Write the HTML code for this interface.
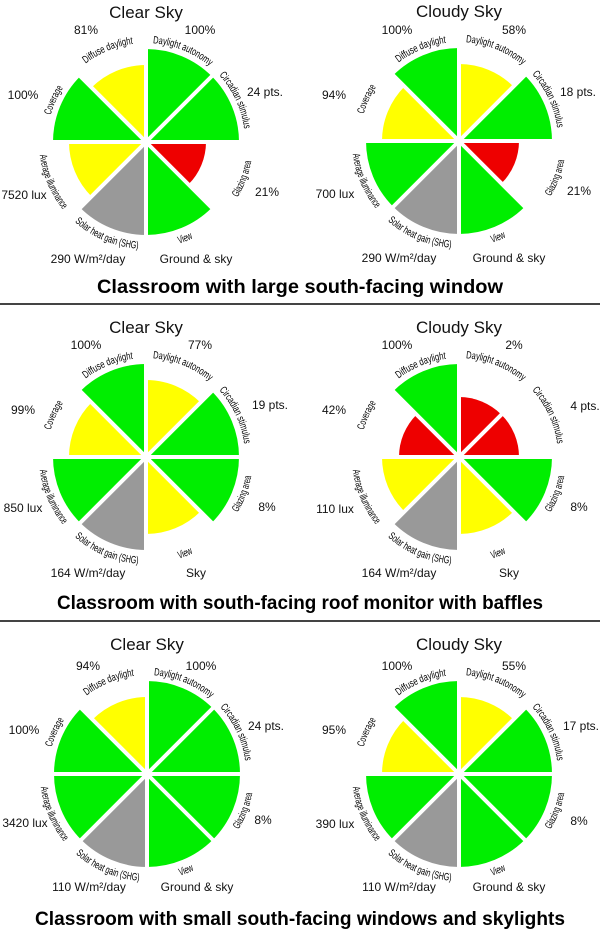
<!DOCTYPE html>
<html><head><meta charset="utf-8"><style>
html,body{margin:0;padding:0;background:#fff;}
svg{display:block}
.v{font-family:"Liberation Sans",sans-serif;font-size:12px;fill:#111;text-anchor:middle}
.t{font-family:"Liberation Sans",sans-serif;font-size:17px;fill:#111;text-anchor:middle}
.h{font-family:"Liberation Sans",sans-serif;font-size:19px;font-weight:bold;fill:#000;text-anchor:middle}
.l{font-family:"Liberation Sans Narrow","Liberation Sans",sans-serif;font-size:10.5px;fill:#000;text-anchor:middle}
.G{fill:#00ee00}.Y{fill:#ffff00}.R{fill:#ee0000}.S{fill:#999}
</style></head><body>
<svg width="600" height="929" viewBox="0 0 600 929" xmlns="http://www.w3.org/2000/svg">
<defs>
<path id="cw" d="M0,-99 A99,99 0 1 1 0,99 A99,99 0 1 1 0,-99" fill="none"/>
<path id="ccw" d="M0,-107 A107,107 0 1 0 0,107 A107,107 0 1 0 0,-107" fill="none"/>
<g id="gaps" stroke="#fff" stroke-width="4">
<line x1="0" y1="0" x2="0" y2="-100"/><line x1="0" y1="0" x2="71" y2="-71"/><line x1="0" y1="0" x2="100" y2="0"/><line x1="0" y1="0" x2="71" y2="71"/><line x1="0" y1="0" x2="0" y2="100"/><line x1="0" y1="0" x2="-71" y2="71"/><line x1="0" y1="0" x2="-100" y2="0"/><line x1="0" y1="0" x2="-71" y2="-71"/>
<circle r="5" fill="#fff" stroke="none"/>
</g>
<g id="F0"><path d="M0 0L0 -93A93 93 0 0 1 65.76 -65.76Z"/></g>
<g id="F1"><path d="M0 0L65.76 -65.76A93 93 0 0 1 93 0Z"/></g>
<g id="F2"><path d="M0 0L93 0A93 93 0 0 1 65.76 65.76Z"/></g>
<g id="F3"><path d="M0 0L65.76 65.76A93 93 0 0 1 0 93Z"/></g>
<g id="F4"><path d="M0 0L0 93A93 93 0 0 1 -65.76 65.76Z"/></g>
<g id="F5"><path d="M0 0L-65.76 65.76A93 93 0 0 1 -93 0Z"/></g>
<g id="F6"><path d="M0 0L-93 0A93 93 0 0 1 -65.76 -65.76Z"/></g>
<g id="F7"><path d="M0 0L-65.76 -65.76A93 93 0 0 1 0 -93Z"/></g>
<g id="Y0"><path d="M0 0L0 -77A77 77 0 0 1 54.45 -54.45Z"/></g>
<g id="Y3"><path d="M0 0L54.45 54.45A77 77 0 0 1 0 77Z"/></g>
<g id="Y5"><path d="M0 0L-54.45 54.45A77 77 0 0 1 -77 0Z"/></g>
<g id="Y6"><path d="M0 0L-77 0A77 77 0 0 1 -54.45 -54.45Z"/></g>
<g id="Y7"><path d="M0 0L-54.45 -54.45A77 77 0 0 1 0 -77Z"/></g>
<g id="R0"><path d="M0 0L0 -60A60 60 0 0 1 42.43 -42.43Z"/></g>
<g id="R1"><path d="M0 0L42.43 -42.43A60 60 0 0 1 60 0Z"/></g>
<g id="R2"><path d="M0 0L60 0A60 60 0 0 1 42.43 42.43Z"/></g>
<g id="R6"><path d="M0 0L-60 0A60 60 0 0 1 -42.43 -42.43Z"/></g>
</defs>

<line x1="0" y1="304" x2="600" y2="304" stroke="#444" stroke-width="2"/>
<line x1="0" y1="621" x2="600" y2="621" stroke="#444" stroke-width="2"/>

<!-- Panel 1 chart 1 -->
<g transform="translate(146,142)">
<use href="#F0" class="G"/><use href="#F1" class="G"/><use href="#R2" class="R"/><use href="#F3" class="G"/><use href="#F4" class="S"/><use href="#Y5" class="Y"/><use href="#F6" class="G"/><use href="#Y7" class="Y"/>
<use href="#gaps"/>
<text class="t" x="0" y="-124">Clear Sky</text>
<text class="v" x="-60" y="-108">81%</text><text class="v" x="54" y="-108">100%</text>
<text class="v" x="-123" y="-43">100%</text><text class="v" x="119" y="-46">24 pts.</text>
<text class="v" x="-122" y="57">7520 lux</text><text class="v" x="121" y="54">21%</text>
<text class="v" x="-58" y="121">290 W/m²/day</text><text class="v" x="50" y="121">Ground &amp; sky</text>
<text class="l"><textPath href="#cw" startOffset="38" textLength="62" lengthAdjust="spacingAndGlyphs">Daylight autonomy</textPath></text>
<text class="l"><textPath href="#cw" startOffset="112" textLength="60" lengthAdjust="spacingAndGlyphs">Circadian stimulus</textPath></text>
<text class="l"><textPath href="#cw" startOffset="508" textLength="30" lengthAdjust="spacingAndGlyphs">Coverage</textPath></text>
<text class="l"><textPath href="#cw" startOffset="582" textLength="52" lengthAdjust="spacingAndGlyphs">Diffuse daylight</textPath></text>
<text class="l"><textPath href="#ccw" startOffset="465" textLength="39" lengthAdjust="spacingAndGlyphs">Glazing area</textPath></text>
<text class="l"><textPath href="#ccw" startOffset="377" textLength="15" lengthAdjust="spacingAndGlyphs">View</textPath></text>
<text class="l"><textPath href="#ccw" startOffset="293" textLength="70" lengthAdjust="spacingAndGlyphs">Solar heat gain (SHG)</textPath></text>
<text class="l"><textPath href="#ccw" startOffset="211" textLength="60" lengthAdjust="spacingAndGlyphs">Average illuminance</textPath></text>
</g>

<!-- Panel 1 chart 2 -->
<g transform="translate(459,141)">
<use href="#Y0" class="Y"/><use href="#F1" class="G"/><use href="#R2" class="R"/><use href="#F3" class="G"/><use href="#F4" class="S"/><use href="#F5" class="G"/><use href="#Y6" class="Y"/><use href="#F7" class="G"/>
<use href="#gaps"/>
<text class="t" x="0" y="-124">Cloudy Sky</text>
<text class="v" x="-62" y="-107">100%</text><text class="v" x="55" y="-107">58%</text>
<text class="v" x="-125" y="-42">94%</text><text class="v" x="119" y="-45">18 pts.</text>
<text class="v" x="-124" y="57">700 lux</text><text class="v" x="120" y="54">21%</text>
<text class="v" x="-60" y="121">290 W/m²/day</text><text class="v" x="50" y="121">Ground &amp; sky</text>
<text class="l"><textPath href="#cw" startOffset="38" textLength="62" lengthAdjust="spacingAndGlyphs">Daylight autonomy</textPath></text>
<text class="l"><textPath href="#cw" startOffset="112" textLength="60" lengthAdjust="spacingAndGlyphs">Circadian stimulus</textPath></text>
<text class="l"><textPath href="#cw" startOffset="508" textLength="30" lengthAdjust="spacingAndGlyphs">Coverage</textPath></text>
<text class="l"><textPath href="#cw" startOffset="582" textLength="52" lengthAdjust="spacingAndGlyphs">Diffuse daylight</textPath></text>
<text class="l"><textPath href="#ccw" startOffset="465" textLength="39" lengthAdjust="spacingAndGlyphs">Glazing area</textPath></text>
<text class="l"><textPath href="#ccw" startOffset="377" textLength="15" lengthAdjust="spacingAndGlyphs">View</textPath></text>
<text class="l"><textPath href="#ccw" startOffset="293" textLength="70" lengthAdjust="spacingAndGlyphs">Solar heat gain (SHG)</textPath></text>
<text class="l"><textPath href="#ccw" startOffset="211" textLength="60" lengthAdjust="spacingAndGlyphs">Average illuminance</textPath></text>
</g>
<text class="h" x="300" y="293" textLength="406" lengthAdjust="spacingAndGlyphs">Classroom with large south-facing window</text>

<!-- Panel 2 chart 1 -->
<g transform="translate(146,457)">
<use href="#Y0" class="Y"/><use href="#F1" class="G"/><use href="#F2" class="G"/><use href="#Y3" class="Y"/><use href="#F4" class="S"/><use href="#F5" class="G"/><use href="#Y6" class="Y"/><use href="#F7" class="G"/>
<use href="#gaps"/>
<text class="t" x="0" y="-124">Clear Sky</text>
<text class="v" x="-60" y="-108">100%</text><text class="v" x="54" y="-108">77%</text>
<text class="v" x="-123" y="-43">99%</text><text class="v" x="124" y="-48">19 pts.</text>
<text class="v" x="-123" y="55">850 lux</text><text class="v" x="121" y="54">8%</text>
<text class="v" x="-58" y="120">164 W/m²/day</text><text class="v" x="50" y="120">Sky</text>
<text class="l"><textPath href="#cw" startOffset="38" textLength="62" lengthAdjust="spacingAndGlyphs">Daylight autonomy</textPath></text>
<text class="l"><textPath href="#cw" startOffset="112" textLength="60" lengthAdjust="spacingAndGlyphs">Circadian stimulus</textPath></text>
<text class="l"><textPath href="#cw" startOffset="508" textLength="30" lengthAdjust="spacingAndGlyphs">Coverage</textPath></text>
<text class="l"><textPath href="#cw" startOffset="582" textLength="52" lengthAdjust="spacingAndGlyphs">Diffuse daylight</textPath></text>
<text class="l"><textPath href="#ccw" startOffset="465" textLength="39" lengthAdjust="spacingAndGlyphs">Glazing area</textPath></text>
<text class="l"><textPath href="#ccw" startOffset="377" textLength="15" lengthAdjust="spacingAndGlyphs">View</textPath></text>
<text class="l"><textPath href="#ccw" startOffset="293" textLength="70" lengthAdjust="spacingAndGlyphs">Solar heat gain (SHG)</textPath></text>
<text class="l"><textPath href="#ccw" startOffset="211" textLength="60" lengthAdjust="spacingAndGlyphs">Average illuminance</textPath></text>
</g>

<!-- Panel 2 chart 2 -->
<g transform="translate(459,457)">
<use href="#R0" class="R"/><use href="#R1" class="R"/><use href="#F2" class="G"/><use href="#Y3" class="Y"/><use href="#F4" class="S"/><use href="#Y5" class="Y"/><use href="#R6" class="R"/><use href="#F7" class="G"/>
<use href="#gaps"/>
<text class="t" x="0" y="-124">Cloudy Sky</text>
<text class="v" x="-62" y="-108">100%</text><text class="v" x="55" y="-108">2%</text>
<text class="v" x="-125" y="-43">42%</text><text class="v" x="126" y="-47">4 pts.</text>
<text class="v" x="-124" y="56">110 lux</text><text class="v" x="120" y="54">8%</text>
<text class="v" x="-60" y="120">164 W/m²/day</text><text class="v" x="50" y="120">Sky</text>
<text class="l"><textPath href="#cw" startOffset="38" textLength="62" lengthAdjust="spacingAndGlyphs">Daylight autonomy</textPath></text>
<text class="l"><textPath href="#cw" startOffset="112" textLength="60" lengthAdjust="spacingAndGlyphs">Circadian stimulus</textPath></text>
<text class="l"><textPath href="#cw" startOffset="508" textLength="30" lengthAdjust="spacingAndGlyphs">Coverage</textPath></text>
<text class="l"><textPath href="#cw" startOffset="582" textLength="52" lengthAdjust="spacingAndGlyphs">Diffuse daylight</textPath></text>
<text class="l"><textPath href="#ccw" startOffset="465" textLength="39" lengthAdjust="spacingAndGlyphs">Glazing area</textPath></text>
<text class="l"><textPath href="#ccw" startOffset="377" textLength="15" lengthAdjust="spacingAndGlyphs">View</textPath></text>
<text class="l"><textPath href="#ccw" startOffset="293" textLength="70" lengthAdjust="spacingAndGlyphs">Solar heat gain (SHG)</textPath></text>
<text class="l"><textPath href="#ccw" startOffset="211" textLength="60" lengthAdjust="spacingAndGlyphs">Average illuminance</textPath></text>
</g>
<text class="h" x="300" y="609" textLength="486" lengthAdjust="spacingAndGlyphs">Classroom with south-facing roof monitor with baffles</text>

<!-- Panel 3 chart 1 -->
<g transform="translate(147,774)">
<use href="#F0" class="G"/><use href="#F1" class="G"/><use href="#F2" class="G"/><use href="#F3" class="G"/><use href="#F4" class="S"/><use href="#F5" class="G"/><use href="#F6" class="G"/><use href="#Y7" class="Y"/>
<use href="#gaps"/>
<text class="t" x="0" y="-124">Clear Sky</text>
<text class="v" x="-59" y="-104">94%</text><text class="v" x="54" y="-104">100%</text>
<text class="v" x="-123" y="-40">100%</text><text class="v" x="119" y="-44">24 pts.</text>
<text class="v" x="-122" y="53">3420 lux</text><text class="v" x="116" y="50">8%</text>
<text class="v" x="-58" y="117">110 W/m²/day</text><text class="v" x="50" y="117">Ground &amp; sky</text>
<text class="l"><textPath href="#cw" startOffset="38" textLength="62" lengthAdjust="spacingAndGlyphs">Daylight autonomy</textPath></text>
<text class="l"><textPath href="#cw" startOffset="112" textLength="60" lengthAdjust="spacingAndGlyphs">Circadian stimulus</textPath></text>
<text class="l"><textPath href="#cw" startOffset="508" textLength="30" lengthAdjust="spacingAndGlyphs">Coverage</textPath></text>
<text class="l"><textPath href="#cw" startOffset="582" textLength="52" lengthAdjust="spacingAndGlyphs">Diffuse daylight</textPath></text>
<text class="l"><textPath href="#ccw" startOffset="465" textLength="39" lengthAdjust="spacingAndGlyphs">Glazing area</textPath></text>
<text class="l"><textPath href="#ccw" startOffset="377" textLength="15" lengthAdjust="spacingAndGlyphs">View</textPath></text>
<text class="l"><textPath href="#ccw" startOffset="293" textLength="70" lengthAdjust="spacingAndGlyphs">Solar heat gain (SHG)</textPath></text>
<text class="l"><textPath href="#ccw" startOffset="211" textLength="60" lengthAdjust="spacingAndGlyphs">Average illuminance</textPath></text>
</g>

<!-- Panel 3 chart 2 -->
<g transform="translate(459,774)">
<use href="#Y0" class="Y"/><use href="#F1" class="G"/><use href="#F2" class="G"/><use href="#F3" class="G"/><use href="#F4" class="S"/><use href="#F5" class="G"/><use href="#Y6" class="Y"/><use href="#F7" class="G"/>
<use href="#gaps"/>
<text class="t" x="0" y="-124">Cloudy Sky</text>
<text class="v" x="-62" y="-104">100%</text><text class="v" x="55" y="-104">55%</text>
<text class="v" x="-125" y="-40">95%</text><text class="v" x="122" y="-44">17 pts.</text>
<text class="v" x="-124" y="54">390 lux</text><text class="v" x="120" y="51">8%</text>
<text class="v" x="-60" y="117">110 W/m²/day</text><text class="v" x="50" y="117">Ground &amp; sky</text>
<text class="l"><textPath href="#cw" startOffset="38" textLength="62" lengthAdjust="spacingAndGlyphs">Daylight autonomy</textPath></text>
<text class="l"><textPath href="#cw" startOffset="112" textLength="60" lengthAdjust="spacingAndGlyphs">Circadian stimulus</textPath></text>
<text class="l"><textPath href="#cw" startOffset="508" textLength="30" lengthAdjust="spacingAndGlyphs">Coverage</textPath></text>
<text class="l"><textPath href="#cw" startOffset="582" textLength="52" lengthAdjust="spacingAndGlyphs">Diffuse daylight</textPath></text>
<text class="l"><textPath href="#ccw" startOffset="465" textLength="39" lengthAdjust="spacingAndGlyphs">Glazing area</textPath></text>
<text class="l"><textPath href="#ccw" startOffset="377" textLength="15" lengthAdjust="spacingAndGlyphs">View</textPath></text>
<text class="l"><textPath href="#ccw" startOffset="293" textLength="70" lengthAdjust="spacingAndGlyphs">Solar heat gain (SHG)</textPath></text>
<text class="l"><textPath href="#ccw" startOffset="211" textLength="60" lengthAdjust="spacingAndGlyphs">Average illuminance</textPath></text>
</g>
<text class="h" x="300" y="925" textLength="530" lengthAdjust="spacingAndGlyphs">Classroom with small south-facing windows and skylights</text>
</svg>
</body></html>
